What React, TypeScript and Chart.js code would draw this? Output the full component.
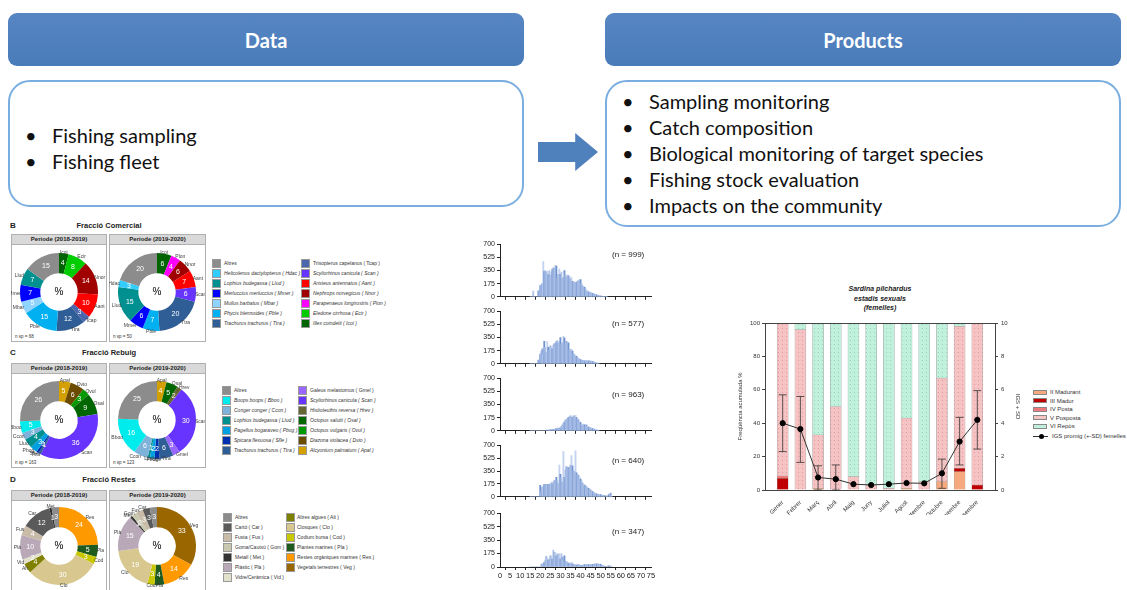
import React, { useEffect, useRef } from 'react';
import { Chart, registerables } from 'chart.js';

Chart.register(...registerables);
Chart.defaults.font.family = '"Liberation Sans", Arial, sans-serif';

// ================= Header texts =================
const dataItems = ['Fishing sampling', 'Fishing fleet'];
const productItems = [
  'Sampling monitoring',
  'Catch composition',
  'Biological monitoring of target species',
  'Fishing stock evaluation',
  'Impacts on the community',
];

// ================= Donut data =================
const periods = ['Periode (2018-2019)', 'Periode (2019-2020)'];

const bLegend1 = ['Altres', 'Helicolenus dactylopterus ( Hdac )', 'Lophius budegassa ( Llud )', 'Merluccius merluccius ( Mmer )', 'Mullus barbatus ( Mbar )', 'Phycis blennoides ( Pble )', 'Trachurus trachurus ( Ttra )'];
const bLegend2 = ['Trisopterus capelanus ( Tcap )', 'Scyliorhinus canicula ( Scan )', 'Aristeus antennatus ( Aant )', 'Nephrops norvegicus ( Nnor )', 'Parapenaeus longirostris ( Plon )', 'Eledone cirrhosa ( Ecir )', 'Illex coindetii ( Icoi )'];
const bCodes1 = ['Altres', 'Hdac', 'Llud', 'Mmer', 'Mbar', 'Pble', 'Ttra'];
const bCodes2 = ['Tcap', 'Scan', 'Aant', 'Nnor', 'Plon', 'Ecir', 'Icoi'];

const cLegend1 = ['Altres', 'Boops boops ( Bboo )', 'Conger conger ( Ccon )', 'Lophius budegassa ( Llud )', 'Pagellus bogaraveo ( Pbog )', 'Spicara flexuosa ( Sfle )', 'Trachurus trachurus ( Ttra )'];
const cLegend2 = ['Galeus melastomus ( Gmel )', 'Scyliorhinus canicula ( Scan )', 'Histioteuthis reversa ( Hrev )', 'Octopus salutii ( Osal )', 'Octopus vulgaris ( Ovul )', 'Diazona violacea ( Dvio )', 'Alcyonium palmatum ( Apal )'];
const cCodes1 = ['Altres', 'Bboo', 'Ccon', 'Llud', 'Pbog', 'Sfle', 'Ttra'];
const cCodes2 = ['Gmel', 'Scan', 'Hrev', 'Osal', 'Ovul', 'Dvio', 'Apal'];

const dLegend1 = ['Altres', 'Cartó ( Car )', 'Fusta ( Fus )', 'Goma/Cautxú ( Gom )', 'Metall ( Met )', 'Plàstic ( Plà )', 'Vidre/Ceràmica ( Vid )'];
const dLegend2 = ['Altres algues ( Alt )', 'Closques ( Clo )', 'Codium bursa ( Cod )', 'Plantes marines ( Pla )', 'Restes orgàniques marines ( Res )', 'Vegetals terrestres ( Veg )'];
const dCodes1 = ['Altres', 'Car', 'Fus', 'Gom', 'Met', 'Plà', 'Vid'];
const dCodes2 = ['Alt', 'Clo', 'Cod', 'Pla', 'Res', 'Veg'];

const codeColors: Record<string, string> = {
  Altres: '#8c8c8c', Hdac: '#33ccff', Llud: '#009090', Mmer: '#0000ff', Mbar: '#8fd3ff', Pble: '#00b0f0', Ttra: '#2f5d95',
  Tcap: '#4a66ad', Scan: '#6633ff', Aant: '#ff0000', Nnor: '#a00000', Plon: '#ff00ff', Ecir: '#00cc00', Icoi: '#006400',
  Bboo: '#00ecec', Ccon: '#7fb2d9', Pbog: '#00a0e0', Sfle: '#0030b0',
  Gmel: '#9966ff', Hrev: '#666633', Osal: '#006600', Ovul: '#009900', Dvio: '#6b4b00', Apal: '#d4a000',
  Car: '#5a5a5a', Fus: '#c8bca8', Gom: '#c8c8b0', Met: '#333333', 'Plà': '#b8a8b8', Vid: '#e2e2cc',
  Alt: '#808000', Clo: '#d8c890', Cod: '#c8c800', Pla: '#1f5a1f', Res: '#ff9900', Veg: '#996600',
};

const b1Codes = ['Icoi', 'Ecir', 'Nnor', 'Aant', 'Tcap', 'Ttra', 'Pble', 'Mbar', 'Mmer', 'Llud', 'Altres'];
const b1Values = [4, 8, 14, 10, 3, 12, 15, 5, 7, 7, 15];
const b2Codes = ['Icoi', 'Plon', 'Nnor', 'Aant', 'Scan', 'Ttra', 'Pble', 'Mmer', 'Llud', 'Hdac', 'Altres'];
const b2Values = [6, 4, 6, 7, 6, 20, 7, 6, 15, 3, 20];
const c1Codes = ['Apal', 'Dvio', 'Ovul', 'Osal', 'Scan', 'Ttra', 'Sfle', 'Pbog', 'Llud', 'Ccon', 'Bboo', 'Altres'];
const c1Values = [5, 6, 3, 9, 36, 1, 1, 3, 4, 3, 5, 26];
const c2Codes = ['Apal', 'Osal', 'Hrev', 'Scan', 'Gmel', 'Ttra', 'Sfle', 'Pbog', 'Llud', 'Ccon', 'Bboo', 'Altres'];
const c2Values = [4, 5, 2, 30, 3, 6, 2, 2, 1, 6, 16, 25];
const d1Codes = ['Res', 'Pla', 'Cod', 'Clo', 'Alt', 'Vid', 'Plà', 'Fus', 'Car', 'Met', 'Altres'];
const d1Values = [24, 5, 3, 30, 4, 2, 10, 4, 12, 1, 3];
const d2Codes = ['Veg', 'Res', 'Pla', 'Cod', 'Clo', 'Plà', 'Met', 'Gom', 'Fus', 'Car', 'Altres'];
const d2Values = [33, 14, 4, 3, 19, 15, 1, 2, 3, 3, 3];
const nsp = ['n sp = 68', 'n sp = 50', 'n sp = 163', 'n sp = 123'];

// ================= Length histograms (0.5 cm classes from 15 cm) =================
const histStart = 15;
const hist1 = [0, 0, 0, 75, 0, 0, 0, 0, 80, 0,
  150, 160, 175, 470, 340, 350, 330, 340, 300, 350,
  290, 330, 370, 390, 380, 420, 410, 250, 300, 370,
  300, 330, 250, 260, 350, 300, 270, 290, 280, 270,
  240, 255, 205, 200, 190, 185, 195, 205, 215, 225,
  230, 180, 145, 140, 125, 110, 80, 80, 65, 60,
  55, 50, 45, 40, 35, 30, 25, 20, 15, 15,
  10, 8, 6, 5, 5, 4, 3];
const hist2 = [0, 0, 0, 0, 0, 0, 0, 0, 50, 0,
  130, 170, 200, 120, 300, 220, 150, 295, 220, 180,
  240, 230, 200, 250, 270, 240, 295, 310, 280, 300,
  350, 260, 280, 365, 345, 280, 300, 280, 280, 185,
  190, 195, 170, 135, 120, 115, 100, 85, 70, 60,
  55, 50, 45, 40, 40, 40, 40, 40, 40, 40,
  35, 35, 30, 25, 20, 15, 10, 8, 5];
const hist3 = [0, 0, 0, 0, 0, 0, 0, 0, 0, 0,
  0, 0, 0, 0, 0, 0, 10, 0, 10, 5,
  15, 10, 15, 20, 20, 25, 30, 25, 35, 30,
  40, 60, 80, 100, 120, 145, 150, 165, 180, 185,
  200, 190, 180, 200, 195, 205, 175, 160, 145, 125,
  110, 90, 75, 90, 80, 60, 80, 60, 50, 40,
  40, 35, 30, 25, 20, 15, 10, 8, 5];
const hist4 = [0, 0, 0, 0, 0, 0, 0, 0, 0, 0,
  155, 70, 130, 150, 170, 165, 170, 160, 170, 170,
  175, 200, 180, 200, 220, 190, 265, 220, 180, 430,
  305, 265, 200, 615, 265, 370, 410, 380, 400, 400,
  430, 560, 420, 350, 350, 625, 325, 305, 290, 265,
  240, 220, 185, 170, 160, 155, 135, 125, 115, 100,
  95, 80, 70, 60, 50, 45, 40, 35, 30, 30,
  30, 25, 20, 20, 15, 10, 10, 15, 30, 45, 50, 10];
const hist5 = [0, 0, 0, 0, 0, 0, 0, 0, 0, 0, 0,
  30, 40, 40, 60, 90, 135, 115, 90, 100, 145,
  145, 105, 220, 190, 190, 145, 170, 165, 175, 105,
  170, 130, 85, 145, 75, 70, 60, 50, 40, 45,
  60, 40, 35, 30, 25, 25, 30, 30, 25, 20,
  20, 25, 20, 30, 25, 30, 35, 30, 25, 30,
  25, 35, 30, 40, 35, 40, 40, 35, 40, 35,
  25, 20, 15, 10, 10, 10, 15, 15, 15, 10, 5];
const histN = ['(n = 999)', '(n = 577)', '(n = 963)', '(n = 640)', '(n = 347)'];

// ================= Sardina pilchardus sexual stages =================
const months = ['Gener', 'Febrer', 'Març', 'Abril', 'Maig', 'Juny', 'Juliol', 'Agost', 'Setembre', 'Octubre', 'Novembre', 'Desembre'];
const stageMadurant = [0, 0, 1, 0, 0, 0, 0, 1, 0, 5, 11, 0];
const stageMadur = [7, 0, 0, 0, 0, 0, 0, 0, 0, 0, 2, 3];
const stagePosta = [1.5, 0, 0, 0, 0, 0, 0, 0, 0, 0, 0, 0];
const stagePosposta = [91.5, 96, 32, 50, 8, 3, 1, 42, 5, 62, 85, 97];
const stageRepos = [0, 4, 67, 50, 92, 97, 99, 57, 95, 33, 2, 0];
const igsMean = [4.0, 3.65, 0.75, 0.65, 0.35, 0.3, 0.35, 0.42, 0.4, 1.0, 2.9, 4.2];
const igsLow = [2.3, 1.65, 0.0, 0.0, 0.35, 0.3, 0.35, 0.42, 0.4, 0.1, 1.5, 2.45];
const igsHigh = [5.7, 5.6, 1.45, 1.5, 0.35, 0.3, 0.35, 0.42, 0.4, 1.85, 4.35, 5.95];
const stageLabels = ['II Madurant', 'III Madur', 'IV Posta', 'V Posposta', 'VI Repòs'];
const stageColors = ['#f6a87f', '#c00000', '#f07a7a', '#f5c3c3', '#c1f0dd'];

// ================= helpers =================
const FONT = '"Liberation Sans", Arial, sans-serif';

function dotPattern(base: string, dot: string) {
  const c = document.createElement('canvas');
  c.width = 4; c.height = 4;
  const g = c.getContext('2d')!;
  g.fillStyle = base; g.fillRect(0, 0, 4, 4);
  g.fillStyle = dot; g.fillRect(1, 1, 1, 1);
  return g.createPattern(c, 'repeat');
}

const donutLabels = {
  id: 'donutLabels',
  afterDatasetsDraw(chart: any) {
    const ctx = chart.ctx;
    const meta = chart.getDatasetMeta(0);
    const ds = chart.data.datasets[0];
    const labels = chart.data.labels as string[];
    ctx.save();
    ctx.textBaseline = 'middle';
    let cx = 0, cy = 0;
    meta.data.forEach((arc: any, i: number) => {
      const p = arc.getProps(['x', 'y', 'startAngle', 'endAngle', 'innerRadius', 'outerRadius'], true);
      cx = p.x; cy = p.y;
      const mid = (p.startAngle + p.endAngle) / 2;
      const rm = (p.innerRadius + p.outerRadius) / 2;
      ctx.fillStyle = '#ffffff';
      ctx.font = `7px ${FONT}`;
      ctx.textAlign = 'center';
      ctx.fillText(String(ds.data[i]), p.x + Math.cos(mid) * rm, p.y + Math.sin(mid) * rm);
      const code = labels[i];
      if (code && code !== 'Altres') {
        const ro = p.outerRadius - 1;
        const c = Math.cos(mid);
        ctx.fillStyle = '#404040';
        ctx.font = `5px ${FONT}`;
        ctx.textAlign = c > 0.25 ? 'left' : c < -0.25 ? 'right' : 'center';
        ctx.fillText(code, p.x + c * ro, p.y + Math.sin(mid) * (ro + 2));
      }
    });
    ctx.fillStyle = '#000';
    ctx.font = `10px ${FONT}`;
    ctx.textAlign = 'center';
    ctx.fillText('%', cx, cy);
    ctx.restore();
  },
};

function donutConfig(codes: string[], values: number[]): any {
  return {
    type: 'doughnut',
    data: {
      labels: codes,
      datasets: [{ data: values, backgroundColor: codes.map((c) => codeColors[c]), borderWidth: 0 }],
    },
    options: {
      animation: false, responsive: false, devicePixelRatio: 1,
      cutout: '48%',
      layout: { padding: 9 },
      plugins: { legend: { display: false }, tooltip: { enabled: false } },
    },
    plugins: [donutLabels],
  };
}

const histColors = ['#8faadc', '#c3d2ee', '#6f92d0', '#b0c4e8'];

function histConfig(values: number[], showX: boolean): any {
  const data = values.map((v, i) => ({ x: histStart + i * 0.5, y: v }));
  return {
    type: 'bar',
    data: {
      datasets: [{
        data,
        backgroundColor: (c: any) => histColors[c.dataIndex % histColors.length],
        barThickness: 1.2,
        borderWidth: 0,
      }],
    },
    options: {
      animation: false, responsive: false, devicePixelRatio: 1,
      layout: { padding: { top: 4, right: 9, left: 0, bottom: 0 } },
      plugins: { legend: { display: false }, tooltip: { enabled: false } },
      scales: {
        x: {
          type: 'linear', min: 0, max: 75, offset: false,
          grid: { display: true, drawOnChartArea: false, drawTicks: true, tickLength: 3, color: '#222' },
          border: { color: '#222' },
          ticks: { display: showX, stepSize: 5, font: { size: 7.5 }, color: '#222', padding: 1, maxRotation: 0, autoSkip: false },
          afterFit: (s: any) => { s.height = showX ? 13 : 4; },
        },
        y: {
          min: 0, max: 700,
          grid: { display: true, drawOnChartArea: false, drawTicks: true, tickLength: 3, color: '#222' },
          border: { color: '#222' },
          ticks: { stepSize: 175, font: { size: 7 }, color: '#222', padding: 2 },
          afterFit: (s: any) => { s.width = 35; },
        },
      },
    },
  };
}

const pad = (a: number[]) => [null, ...a, null];

const errorBars = {
  id: 'errorBars',
  beforeDatasetDraw(chart: any, args: any) {
    if (args.index !== 5) return;
    const { ctx, scales } = chart;
    const xs = scales.x, ys = scales.y2;
    ctx.save();
    ctx.strokeStyle = '#333';
    ctx.lineWidth = 0.8;
    igsLow.forEach((lo, i) => {
      const hi = igsHigh[i];
      if (hi - lo < 0.05) return;
      const x = xs.getPixelForValue(i + 1);
      const y1 = ys.getPixelForValue(lo), y2 = ys.getPixelForValue(hi);
      ctx.beginPath();
      ctx.moveTo(x, y1); ctx.lineTo(x, y2);
      ctx.moveTo(x - 4, y1); ctx.lineTo(x + 4, y1);
      ctx.moveTo(x - 4, y2); ctx.lineTo(x + 4, y2);
      ctx.stroke();
    });
    ctx.restore();
  },
  afterDraw(chart: any) {
    const { ctx, chartArea } = chart;
    ctx.save();
    ctx.strokeStyle = '#444';
    ctx.lineWidth = 1;
    ctx.beginPath();
    ctx.moveTo(chartArea.left, chartArea.top + 0.5);
    ctx.lineTo(chartArea.right, chartArea.top + 0.5);
    ctx.stroke();
    ctx.restore();
  },
};

function stageConfig(): any {
  const fills = [
    stageColors[0], stageColors[1], stageColors[2],
    dotPattern(stageColors[3], '#e29a9a'),
    dotPattern(stageColors[4], '#8fd6bb'),
  ];
  const series = [stageMadurant, stageMadur, stagePosta, stagePosposta, stageRepos];
  const bars = series.map((s, k) => ({
    type: 'bar',
    label: stageLabels[k],
    data: pad(s),
    backgroundColor: fills[k],
    borderColor: 'rgba(120,120,120,0.7)',
    borderWidth: 0.5,
    barThickness: 11,
    yAxisID: 'y',
    order: 1,
  }));
  return {
    type: 'bar',
    data: {
      labels: ['', ...months, ''],
      datasets: [
        ...bars,
        {
          type: 'line',
          label: 'IGS promig (+-SD) femelles',
          data: pad(igsMean),
          borderColor: '#333',
          borderWidth: 1,
          pointRadius: 2.6,
          pointBackgroundColor: '#000',
          pointBorderColor: '#000',
          yAxisID: 'y2',
          order: 0,
        },
      ],
    },
    options: {
      animation: false, responsive: false, devicePixelRatio: 1,
      layout: { padding: { top: 8, right: 0, left: 0, bottom: 0 } },
      plugins: { legend: { display: false }, tooltip: { enabled: false } },
      scales: {
        x: {
          stacked: true, offset: false,
          grid: { display: false },
          border: { color: '#444' },
          ticks: { font: { size: 6 }, color: '#333', minRotation: 45, maxRotation: 45, autoSkip: false, padding: 1 },
          afterFit: (s: any) => { s.height = 25; },
        },
        y: {
          stacked: true, min: 0, max: 100,
          grid: { display: true, drawOnChartArea: false, tickLength: 3, color: '#444' },
          border: { color: '#444' },
          ticks: { stepSize: 20, font: { size: 6 }, color: '#333', padding: 2 },
          title: { display: true, text: 'Freqüència acumulada %', font: { size: 6 }, color: '#333' },
          afterFit: (s: any) => { s.width = 32; },
        },
        y2: {
          position: 'right', min: 0, max: 10,
          grid: { display: true, drawOnChartArea: false, tickLength: 3, color: '#444' },
          border: { color: '#444' },
          ticks: { stepSize: 2, font: { size: 6 }, color: '#333', padding: 3 },
          title: { display: true, text: 'IGS + SD', font: { size: 6 }, color: '#333' },
          afterFit: (s: any) => { s.width = 30; },
        },
      },
    },
    plugins: [errorBars],
  };
}

// ================= components =================
const abs = (left: number, top: number, extra: React.CSSProperties = {}): React.CSSProperties => ({
  position: 'absolute', left, top, ...extra,
});

function HeaderBox({ left, text }: { left: number; text: string }) {
  return (
    <div style={abs(left, 13, {
      width: 516, height: 53, borderRadius: 9,
      background: 'linear-gradient(#5786c3, #4a7bb9)',
      color: '#fff', fontFamily: 'Lato, "Open Sans", sans-serif', fontWeight: 700, fontSize: 20,
      display: 'flex', alignItems: 'center', justifyContent: 'center', boxSizing: 'border-box',
    })}>{text}</div>
  );
}

function BodyBox({ left, height, items, firstY }: { left: number; height: number; items: string[]; firstY: number }) {
  return (
    <>
      <div style={abs(left, 80, {
        width: 516, height, borderRadius: 22, border: '2px solid #7aaee0', boxSizing: 'border-box', background: '#fff',
      })} />
      {items.map((t, i) => (
        <div key={t} style={abs(left + 17, firstY + i * 26 - 13, {
          height: 26, lineHeight: '26px', fontFamily: 'Lato, "Open Sans", sans-serif', fontSize: 20, color: '#111', whiteSpace: 'nowrap',
        })}>
          <span style={{ display: 'inline-block', width: 27 }}>•</span>{t}
        </div>
      ))}
    </>
  );
}

function Panel({ left, top, width, height, title, note }: { left: number; top: number; width: number; height: number; title: string; note?: string }) {
  return (
    <div style={abs(left, top, { width, height, border: '1px solid #b0b0b0', boxSizing: 'border-box', background: '#fff', overflow: 'hidden' })}>
      <div style={{
        height: 9, background: '#d9d9d9', borderBottom: '1px solid #b0b0b0', fontFamily: FONT, fontWeight: 700,
        fontSize: 6, lineHeight: '9px', textAlign: 'center', color: '#222',
      }}>{title}</div>
      {note && <div style={{ position: 'absolute', left: 3, bottom: 2, fontFamily: FONT, fontSize: 4.5, color: '#333' }}>{note}</div>}
    </div>
  );
}

function LegendCol({ left, top, textLeft, names, codes, italic }: { left: number; top: number; textLeft: number; names: string[]; codes: string[]; italic: boolean }) {
  return (
    <>
      {names.map((n, i) => (
        <React.Fragment key={n}>
          <div style={abs(left, top + i * 10 - 4.5, { width: 9, height: 9, background: codeColors[codes[i]], border: '0.5px solid #999', boxSizing: 'border-box' })} />
          <div style={abs(textLeft, top + i * 10 - 4.5, {
            height: 9, lineHeight: '9px', fontFamily: FONT, fontSize: 5, fontStyle: italic && i > 0 ? 'italic' : 'normal', color: '#333', whiteSpace: 'nowrap',
          })}>{n}</div>
        </React.Fragment>
      ))}
    </>
  );
}

function SectionTitle({ top, letter, title }: { top: number; letter: string; title: string }) {
  return (
    <>
      <div style={abs(10, top - 5, { fontFamily: FONT, fontWeight: 700, fontSize: 8, lineHeight: '10px', color: '#222' })}>{letter}</div>
      <div style={abs(60, top - 5, { width: 98, textAlign: 'center', fontFamily: FONT, fontWeight: 700, fontSize: 7.5, lineHeight: '10px', color: '#222' })}>{title}</div>
    </>
  );
}

export default function App() {
  const donutRefs = [useRef<HTMLCanvasElement>(null), useRef<HTMLCanvasElement>(null), useRef<HTMLCanvasElement>(null),
    useRef<HTMLCanvasElement>(null), useRef<HTMLCanvasElement>(null), useRef<HTMLCanvasElement>(null)];
  const histRefs = [useRef<HTMLCanvasElement>(null), useRef<HTMLCanvasElement>(null), useRef<HTMLCanvasElement>(null),
    useRef<HTMLCanvasElement>(null), useRef<HTMLCanvasElement>(null)];
  const stageRef = useRef<HTMLCanvasElement>(null);

  useEffect(() => {
    const charts: Chart[] = [];
    const donuts: [string[], number[]][] = [
      [b1Codes, b1Values], [b2Codes, b2Values], [c1Codes, c1Values], [c2Codes, c2Values], [d1Codes, d1Values], [d2Codes, d2Values],
    ];
    donuts.forEach(([c, v], i) => {
      const el = donutRefs[i].current;
      if (el) charts.push(new Chart(el, donutConfig(c, v)));
    });
    const hists = [hist1, hist2, hist3, hist4, hist5];
    hists.forEach((h, i) => {
      const el = histRefs[i].current;
      if (el) charts.push(new Chart(el, histConfig(h, i === 4)));
    });
    if (stageRef.current) charts.push(new Chart(stageRef.current, stageConfig()));
    return () => charts.forEach((c) => c.destroy());
  }, []);

  const donutPos = [[59, 292], [157, 292], [59, 420], [157, 420], [59, 546], [157, 546]];
  const histTops = [238, 305, 372, 439, 507];
  const histZero = [299, 366, 433, 499, 567];
  const histTextY = [255, 324, 395, 461, 532];

  return (
    <div style={{ position: 'absolute', left: 0, top: 0, width: 1127, height: 590, background: '#fff', overflow: 'hidden' }}>
      <HeaderBox left={8} text="Data" />
      <HeaderBox left={605} text="Products" />
      <BodyBox left={8} height={127} items={dataItems} firstY={135} />
      <BodyBox left={605} height={147} items={productItems} firstY={101} />
      <div style={abs(538, 133, {
        width: 60, height: 38, background: '#4f81bd',
        clipPath: 'polygon(0 24%, 62% 24%, 62% 0, 100% 50%, 62% 100%, 62% 76%, 0 76%)',
      })} />

      {/* Donut sections */}
      <SectionTitle top={226} letter="B" title="Fracció Comercial" />
      <SectionTitle top={353} letter="C" title="Fracció Rebuig" />
      <SectionTitle top={480} letter="D" title="Fracció Restes" />

      <Panel left={11} top={234} width={96} height={108} title={periods[0]} note={nsp[0]} />
      <Panel left={109} top={234} width={97} height={108} title={periods[1]} note={nsp[1]} />
      <Panel left={11} top={363} width={96} height={105} title={periods[0]} note={nsp[2]} />
      <Panel left={109} top={363} width={97} height={105} title={periods[1]} note={nsp[3]} />
      <Panel left={11} top={490} width={96} height={110} title={periods[0]} />
      <Panel left={109} top={490} width={97} height={110} title={periods[1]} />

      {donutPos.map(([x, y], i) => (
        <canvas key={i} ref={donutRefs[i]} width={96} height={96} style={abs(x - 48, y - 48, { width: 96, height: 96 })} />
      ))}

      <LegendCol left={212} top={263} textLeft={224} names={bLegend1} codes={bCodes1} italic />
      <LegendCol left={301} top={263} textLeft={313} names={bLegend2} codes={bCodes2} italic />
      <LegendCol left={222} top={390} textLeft={234} names={cLegend1} codes={cCodes1} italic />
      <LegendCol left={298} top={390} textLeft={310} names={cLegend2} codes={cCodes2} italic />
      <LegendCol left={223} top={517} textLeft={235} names={dLegend1} codes={dCodes1} italic={false} />
      <LegendCol left={286} top={517} textLeft={297} names={dLegend2} codes={dCodes2} italic={false} />

      {/* Histograms */}
      {histTops.map((t, i) => {
        const h = histZero[i] - t + (i === 4 ? 13 : 4);
        return (
          <React.Fragment key={i}>
            <canvas ref={histRefs[i]} width={195} height={h} style={abs(465, t, { width: 195, height: h })} />
            <div style={abs(612, histTextY[i] - 5, { fontFamily: FONT, fontSize: 8, lineHeight: '10px', color: '#222' })}>{histN[i]}</div>
          </React.Fragment>
        );
      })}

      {/* Sardina chart */}
      <div style={abs(800, 284, { width: 160, textAlign: 'center', fontFamily: FONT, fontWeight: 700, fontStyle: 'italic', fontSize: 7, lineHeight: '9.5px', color: '#222' })}>
        <div>Sardina pilchardus</div>
        <div>estadis sexuals</div>
        <div>(femelles)</div>
      </div>
      <canvas ref={stageRef} width={292} height={200} style={abs(733, 315, { width: 292, height: 200 })} />
      {stageLabels.map((l, i) => (
        <React.Fragment key={l}>
          <div style={abs(1033, [392, 400.5, 409, 417.5, 426][i] - 2.5, {
            width: 14, height: 5, background: stageColors[i], border: '0.5px solid #888', boxSizing: 'border-box',
          })} />
          <div style={abs(1050, [392, 400.5, 409, 417.5, 426][i] - 4, { fontFamily: FONT, fontSize: 6, lineHeight: '8px', color: '#333', whiteSpace: 'nowrap' })}>{l}</div>
        </React.Fragment>
      ))}
      <div style={abs(1033, 436, { width: 15, height: 1, background: '#333' })} />
      <div style={abs(1038.5, 433.5, { width: 5, height: 5, borderRadius: '50%', background: '#000' })} />
      <div style={abs(1052, 432, { fontFamily: FONT, fontSize: 6, lineHeight: '8px', color: '#333', whiteSpace: 'nowrap' })}>IGS promig (+-SD) femelles</div>
    </div>
  );
}
